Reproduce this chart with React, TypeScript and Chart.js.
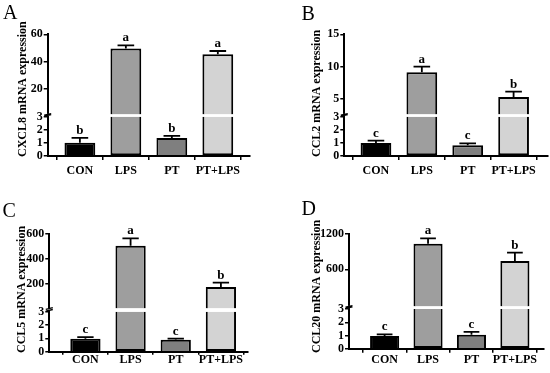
import React, { useEffect, useRef } from 'react';
import { Chart, registerables } from 'chart.js';

Chart.register(...registerables);

const SERIF = "'Liberation Serif', 'Times New Roman', serif";

const categories = ['CON', 'LPS', 'PT', 'PT+LPS'];
const barColors = ['#000000', '#9e9e9e', '#7f7f7f', '#d3d3d3'];
const lowerTicks = [0, 1, 2, 3];
const breakValue = 3;

const cxcl8Values = [1.02, 49.5, 1.38, 45.3];
const cxcl8Errors = [0.36, 2.4, 0.16, 2.4];
const cxcl8Letters = ['b', 'a', 'b', 'a'];
const cxcl8UpperTicks = [20, 40, 60];

const ccl2Values = [1.0, 9.13, 0.82, 5.3];
const ccl2Errors = [0.17, 0.87, 0.15, 0.83];
const ccl2Letters = ['c', 'a', 'c', 'b'];
const ccl2UpperTicks = [5, 10, 15];

const ccl5Values = [0.97, 506, 0.9, 173];
const ccl5Errors = [0.13, 59, 0.08, 35];
const ccl5Letters = ['c', 'a', 'c', 'b'];
const ccl5UpperTicks = [200, 400, 600];

const ccl20Values = [0.96, 1036, 1.06, 742];
const ccl20Errors = [0.12, 90, 0.22, 141];
const ccl20Letters = ['c', 'a', 'c', 'b'];
const ccl20UpperTicks = [600, 1200];

type PanelCfg = {
  letter: string;
  title: string;
  values: number[];
  errors: number[];
  letters: string[];
  upperTicks: number[];
  upperMin: number;
  upperMax: number;
  lowerMax: number;
  upperWeight: number;
  lowerWeight: number;
  left: number;
  top: number;
  pad: { left: number; right: number; top: number; bottom: number };
  xMin: number;
  xMax: number;
  xTickLen: number;
  xTickPad: number;
  letterPos: [number, number];
  titlePos: [number, number];
};

const panels: PanelCfg[] = [
  {
    letter: 'A', title: 'CXCL8 mRNA expression',
    values: cxcl8Values, errors: cxcl8Errors, letters: cxcl8Letters, upperTicks: cxcl8UpperTicks,
    upperMin: 1, upperMax: 60, lowerMax: 3.18, upperWeight: 80.1, lowerWeight: 41.6,
    left: 0, top: 0,
    pad: { left: 17.7, right: 25, top: 34.3, bottom: 11 },
    xMin: -0.7, xMax: 3.7, xTickLen: 4, xTickPad: 5,
    letterPos: [3, 18.5], titlePos: [23, 157],
  },
  {
    letter: 'B', title: 'CCL2 mRNA expression',
    values: ccl2Values, errors: ccl2Errors, letters: ccl2Letters, upperTicks: ccl2UpperTicks,
    upperMin: 2.6, upperMax: 15, lowerMax: 3.18, upperWeight: 80.1, lowerWeight: 41.6,
    left: 275, top: 0,
    pad: { left: 39.3, right: 2, top: 34.3, bottom: 11 },
    xMin: -0.69, xMax: 3.75, xTickLen: 4, xTickPad: 5,
    letterPos: [26.5, 20], titlePos: [42, 157],
  },
  {
    letter: 'C', title: 'CCL5 mRNA expression',
    values: ccl5Values, errors: ccl5Errors, letters: ccl5Letters, upperTicks: ccl5UpperTicks,
    upperMin: 0, upperMax: 600, lowerMax: 3.24, upperWeight: 74.5, lowerWeight: 43.2,
    left: 0, top: 186,
    pad: { left: 19.3, right: 27, top: 48, bottom: 1.3 },
    xMin: -0.8, xMax: 3.6, xTickLen: 3, xTickPad: -1,
    letterPos: [2.5, 30.7], titlePos: [22, 167],
  },
  {
    letter: 'D', title: 'CCL20 mRNA expression',
    values: ccl20Values, errors: ccl20Errors, letters: ccl20Letters, upperTicks: ccl20UpperTicks,
    upperMin: -30, upperMax: 1200, lowerMax: 3.2, upperWeight: 72.4, lowerWeight: 42.3,
    left: 275, top: 186,
    pad: { left: 44, right: 6, top: 48, bottom: 4.3 },
    xMin: -0.82, xMax: 3.67, xTickLen: 4, xTickPad: 1,
    letterPos: [26.5, 29], titlePos: [42, 167],
  },
];

const BAR_PCT = 0.67;

function makeOverlay(p: PanelCfg) {
  return {
    id: 'overlay' + p.letter,
    afterDraw(chart: any) {
      const ctx = chart.ctx as CanvasRenderingContext2D;
      const x = chart.scales.x;
      const yLow = chart.scales.yLow;
      const yHigh = chart.scales.yHigh;
      const axisX = chart.chartArea.left;
      const gapTop = Math.min(yLow.top, yHigh.bottom);
      const gapBottom = yLow.getPixelForValue(breakValue);
      ctx.save();
      // axis break
      ctx.fillStyle = '#ffffff';
      ctx.fillRect(axisX - 5, gapTop - 0.5, 10, gapBottom - gapTop - 0.5);
      ctx.strokeStyle = '#000';
      ctx.lineWidth = 1.3;
      ctx.beginPath();
      ctx.moveTo(axisX - 3.5, gapTop + 0.8);
      ctx.lineTo(axisX + 3.5, gapTop - 0.8);
      ctx.moveTo(axisX - 3.5, gapBottom - 0.6);
      ctx.lineTo(axisX + 3.5, gapBottom - 2.2);
      ctx.stroke();

      // error bars and letters
      const unit = x.getPixelForValue(1) - x.getPixelForValue(0);
      const capHalf = unit * BAR_PCT * 0.27;
      ctx.lineWidth = 1.8;
      ctx.font = `bold 13px ${SERIF}`;
      ctx.fillStyle = '#000';
      ctx.textAlign = 'center';
      ctx.textBaseline = 'alphabetic';
      p.values.forEach((v, i) => {
        const sc = v > breakValue ? yHigh : yLow;
        const cx = x.getPixelForValue(i);
        const yTop = sc.getPixelForValue(v);
        const yErr = sc.getPixelForValue(v + p.errors[i]);
        ctx.beginPath();
        ctx.moveTo(cx, yTop);
        ctx.lineTo(cx, yErr);
        ctx.moveTo(cx - capHalf, yErr);
        ctx.lineTo(cx + capHalf, yErr);
        ctx.stroke();
        ctx.fillText(p.letters[i], cx, yErr - 4);
      });

      // panel letter
      ctx.font = `20px ${SERIF}`;
      ctx.textAlign = 'left';
      ctx.fillText(p.letter, p.letterPos[0], p.letterPos[1]);

      // axis title
      ctx.translate(p.titlePos[0], p.titlePos[1]);
      ctx.rotate(-Math.PI / 2);
      ctx.font = `bold 12px ${SERIF}`;
      ctx.textAlign = 'left';
      ctx.textBaseline = 'middle';
      ctx.fillText(p.title, 0, 0);
      ctx.restore();
    },
  };
}

function Panel({ p }: { p: PanelCfg }) {
  const ref = useRef<HTMLCanvasElement | null>(null);
  useEffect(() => {
    if (!ref.current) return;
    const lowerData = p.values.map((v, i) => ({ x: i, y: Math.min(v, breakValue) }));
    const upperData = p.values
      .map((v, i) => ({ x: i, v }))
      .filter((d) => d.v > breakValue)
      .map((d) => ({ x: d.x, y: [p.upperMin, d.v] }));
    const tickFont = { family: SERIF, size: 12, weight: 'bold' as const, lineHeight: 1 };
    const yCommon = {
      type: 'linear' as const,
      position: 'left' as const,
      stack: 'y',
      offset: false,
      grid: { drawOnChartArea: false, drawTicks: true, tickLength: 4, color: '#000', lineWidth: 1.5 },
      border: { display: true, color: '#000', width: 2, z: 1 },
      ticks: { color: '#000', font: tickFont, padding: 1, autoSkip: false, callback: (v: any) => String(v) },
      afterFit: (s: any) => { s.width = 30; },
    };
    const chart = new Chart(ref.current, {
      type: 'bar',
      data: {
        datasets: [
          {
            data: lowerData as any,
            yAxisID: 'yLow',
            grouped: false,
            backgroundColor: (c: any) => barColors[c.raw ? c.raw.x : 0],
            borderColor: '#000',
            borderWidth: 2,
            borderSkipped: (c: any) => (p.values[c.dataIndex] > breakValue ? 'end' : 'start'),
            barPercentage: BAR_PCT,
            categoryPercentage: 1,
          } as any,
          {
            data: upperData as any,
            yAxisID: 'yHigh',
            grouped: false,
            backgroundColor: (c: any) => barColors[c.raw ? c.raw.x : 0],
            borderColor: '#000',
            borderWidth: 2,
            borderSkipped: 'start',
            barPercentage: BAR_PCT,
            categoryPercentage: 1,
          } as any,
        ],
      },
      options: {
        responsive: false,
        animation: false,
        layout: { padding: p.pad },
        plugins: { legend: { display: false }, tooltip: { enabled: false } },
        scales: {
          x: {
            type: 'linear',
            min: p.xMin,
            max: p.xMax,
            offset: false,
            grid: { drawOnChartArea: false, drawTicks: true, tickLength: p.xTickLen, color: '#000', lineWidth: 1.5 },
            border: { display: true, color: '#000', width: 2, z: 1 },
            afterBuildTicks: (s: any) => { s.ticks = categories.map((_, i) => ({ value: i })); },
            afterFit: (s: any) => { s.height = 20; },
            ticks: {
              color: '#000',
              font: tickFont,
              padding: p.xTickPad,
              autoSkip: false,
              maxRotation: 0,
              callback: (v: any) => categories[Math.round(Number(v))] ?? '',
            },
          },
          yLow: {
            ...yCommon,
            min: 0,
            max: p.lowerMax,
            stackWeight: p.lowerWeight,
            afterBuildTicks: (s: any) => { s.ticks = lowerTicks.map((v) => ({ value: v })); },
          },
          yHigh: {
            ...yCommon,
            min: p.upperMin,
            max: p.upperMax,
            stackWeight: p.upperWeight,
            afterBuildTicks: (s: any) => { s.ticks = p.upperTicks.map((v) => ({ value: v })); },
          },
        } as any,
      },
      plugins: [makeOverlay(p)],
    });
    return () => chart.destroy();
  }, [p]);
  return (
    <canvas
      ref={ref}
      width={275}
      height={187}
      style={{ position: 'absolute', left: p.left, top: p.top, width: 275, height: 187 }}
    />
  );
}

export default function App() {
  return (
    <div style={{ position: 'fixed', left: 0, top: 0, width: 550, height: 373, background: '#ffffff', overflow: 'hidden' }}>
      {panels.map((p) => (
        <Panel key={p.letter} p={p} />
      ))}
    </div>
  );
}
